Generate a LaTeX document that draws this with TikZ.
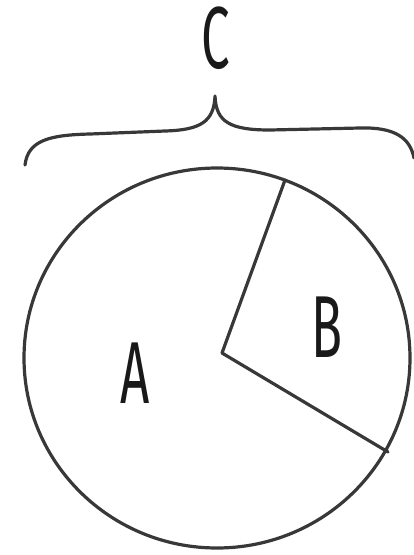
\documentclass[tikz,border=0pt]{standalone}
\usepackage{fontspec}
\setmainfont{Fira Sans}
\begin{document}
\begin{tikzpicture}[x=1pt,y=-1pt,
  ink/.style={draw=black!78,line width=3.2pt,line cap=round,line join=round},
  lbl/.style={inner sep=0pt,text=black!90,font=\fontsize{88}{88}\selectfont}]
\useasboundingbox (0,0) rectangle (413,555);
\coordinate (O) at (217,358);
\draw[ink] (O) ellipse[x radius=193,y radius=190];
\coordinate (ctr) at (222,353);
\coordinate (p1) at (285,180);
\coordinate (p2) at (388,452);
\draw[ink] (p1) -- (ctr) -- (p2);
\node[lbl] (A) at (135,373) {\scalebox{0.58}[1]{A}};
\node[lbl] (B) at (327,327) {\scalebox{0.58}[1]{B}};
\node[lbl] (C) at (216,38) {\scalebox{0.58}[1]{C}};
\coordinate (bl) at (25,165);
\coordinate (bt) at (215,96);
\coordinate (br) at (414,158);
\draw[ink] (bl) .. controls (28,140) and (50,135) .. (90,134)
  -- (165,131) .. controls (200,130) and (214,122) .. (bt)
  .. controls (216,122) and (230,130) .. (270,130)
  -- (360,128) .. controls (395,127) and (410,138) .. (br);
\end{tikzpicture}
\end{document}
